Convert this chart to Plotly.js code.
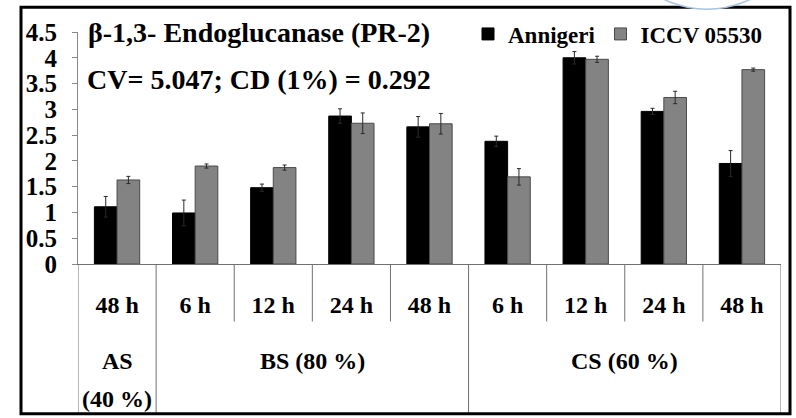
<!DOCTYPE html>
<html>
<head>
<meta charset="utf-8">
<script src="https://cdn.plot.ly/plotly-3.0.1.min.js"></script>
<style>
  html, body { margin: 0; padding: 0; background: #fff; }
  #chart { width: 796px; height: 418px; }
</style>
</head>
<body>
<div id="chart"></div>
<script>
// Sampling times (inner category row) and the stress stage each belongs to
const timePoints = ['48 h', '6 h', '12 h', '24 h', '48 h', '6 h', '12 h', '24 h', '48 h'];
const stageIndex = [0, 1, 1, 1, 1, 2, 2, 2, 2];
const stageLabels = [['AS', '(40 %)'], ['BS (80 %)'], ['CS (60 %)']];

// Enzyme activity and standard errors for the two genotypes
const seriesNames = ['Annigeri', 'ICCV 05530'];
const annigeri = [1.11, 0.99, 1.48, 2.87, 2.66, 2.38, 4.00, 2.96, 1.95];
const annigeriErr = [0.20, 0.25, 0.07, 0.14, 0.20, 0.10, 0.12, 0.06, 0.25];
const iccv = [1.63, 1.90, 1.87, 2.73, 2.72, 1.69, 3.97, 3.23, 3.77];
const iccvErr = [0.07, 0.04, 0.05, 0.20, 0.20, 0.16, 0.06, 0.12, 0.03];

const titleText = 'β-1,3- Endoglucanase (PR-2)';
const statsText = 'CV= 5.047; CD (1%) = 0.292';

const FONT = 'Liberation Serif';
const xIdx = timePoints.map((_, i) => i);

const errStyle = (arr) => ({
  type: 'data', array: arr, visible: true,
  color: '#2a2a2a', thickness: 1, width: 2
});

const traces = [
  {
    type: 'bar', name: seriesNames[0], x: xIdx, y: annigeri,
    marker: { color: '#000000', line: { color: '#000000', width: 1 } },
    error_y: errStyle(annigeriErr)
  },
  {
    type: 'bar', name: seriesNames[1], x: xIdx, y: iccv,
    marker: { color: '#838383', line: { color: '#4a4a4a', width: 1 } },
    error_y: errStyle(iccvErr)
  }
];

// Table-like category area under the x axis
const PLOT_H = 234;                    // plot height in px
const toPaperY = (px) => -px / PLOT_H; // px below the x axis -> paper y
const shapes = [];
const lineStyle = { color: '#707070', width: 1 };

// Boundaries between neighbouring categories; stage edges run to the frame
for (let i = 0; i <= timePoints.length; i++) {
  const first = i === 0, last = i === timePoints.length;
  const groupEdge = first || last || stageIndex[i] !== stageIndex[i - 1];
  shapes.push({
    type: 'line', xref: 'x', yref: 'paper',
    x0: i - 0.5, x1: i - 0.5,
    y0: 0, y1: groupEdge ? toPaperY(151) : toPaperY(58),
    line: lineStyle
  });
}

// Outer frame around the figure
shapes.push({
  type: 'rect', xref: 'paper', yref: 'paper',
  x0: -57 / 703, x1: 712 / 703,
  y0: toPaperY(151), y1: 1 + 25 / PLOT_H,
  line: { color: '#000000', width: 3 }, fillcolor: 'rgba(0,0,0,0)'
});

// Lens edge overlapping the top border
shapes.push({
  type: 'circle', xref: 'paper', yref: 'paper',
  x0: 530 / 703, x1: 728 / 703,
  y0: 1 + 23 / PLOT_H, y1: 1 + 221 / PLOT_H,
  line: { color: '#aac4e0', width: 1.5 }, fillcolor: '#ffffff'
});

const annotations = [
  {
    xref: 'paper', yref: 'paper', x: 7 / 703, y: (264 - 78) / PLOT_H,
    xanchor: 'left', yanchor: 'middle', showarrow: false,
    text: statsText,
    font: { family: FONT, size: 28, color: '#000', weight: 'bold' }
  }
];

// Stage labels, centred under their categories
stageLabels.forEach((lines, g) => {
  const members = xIdx.filter(i => stageIndex[i] === g);
  const cx = (members[0] + members[members.length - 1]) / 2;
  lines.forEach((txt, k) => {
    annotations.push({
      xref: 'x', yref: 'paper', x: cx, y: toPaperY(98),
      yshift: -38 * k,
      xanchor: 'center', yanchor: 'middle', showarrow: false,
      text: txt,
      font: { family: FONT, size: 24, color: '#000', weight: 'bold' }
    });
  });
});

const layout = {
  width: 796, height: 418,
  margin: { l: 78, r: 15, t: 30, b: 154 },
  paper_bgcolor: '#ffffff', plot_bgcolor: '#ffffff',
  font: { family: FONT, color: '#000' },
  barmode: 'group', bargap: 0.42, bargroupgap: 0,
  showlegend: true,
  title: {
    text: titleText,
    xref: 'container', x: 88 / 796, xanchor: 'left',
    yref: 'container', y: 1 - 32 / 418, yanchor: 'middle',
    font: { family: FONT, size: 28, color: '#000', weight: 'bold' }
  },
  legend: {
    orientation: 'h', x: 690 / 703, xanchor: 'right',
    y: (264 - 32) / PLOT_H, yanchor: 'middle',
    bgcolor: 'rgba(0,0,0,0)',
    font: { family: FONT, size: 23, color: '#000', weight: 'bold' }
  },
  xaxis: {
    range: [-0.5, timePoints.length - 0.5],
    tickmode: 'array', tickvals: xIdx, ticktext: timePoints,
    ticks: '', showline: true, linecolor: '#707070', linewidth: 1,
    showgrid: false, zeroline: false, fixedrange: true,
    ticklabelstandoff: 19,
    tickfont: { family: FONT, size: 24, color: '#000', weight: 'bold' }
  },
  yaxis: {
    range: [0, 4.5], tick0: 0, dtick: 0.5,
    ticks: 'outside', ticklen: 5, tickcolor: '#888', tickwidth: 1,
    showline: true, linecolor: '#888', linewidth: 1,
    showgrid: false, zeroline: false, fixedrange: true,
    ticklabelstandoff: 10,
    tickfont: { family: FONT, size: 25, color: '#000', weight: 'bold' }
  },
  shapes: shapes,
  annotations: annotations
};

Plotly.newPlot('chart', traces, layout, { staticPlot: true, displayModeBar: false });
</script>
</body>
</html>
